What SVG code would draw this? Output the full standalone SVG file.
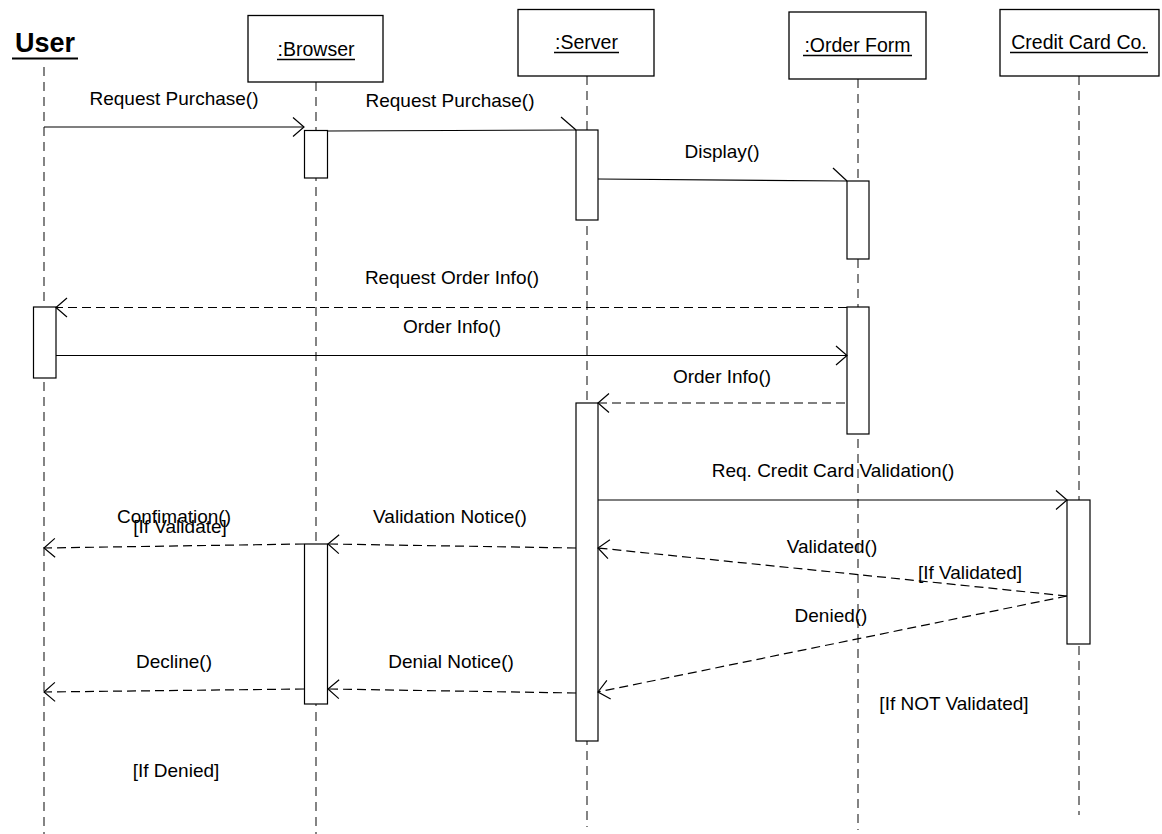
<svg xmlns="http://www.w3.org/2000/svg" width="1162" height="834" viewBox="0 0 1162 834">
<style>
text{font-family:"Liberation Sans",Arial,sans-serif;font-size:19px;fill:#000;text-anchor:middle}
.title{font-size:19.5px}
.box{fill:#fff;stroke:#000;stroke-width:1.3}
.act{fill:#fff;stroke:#000;stroke-width:1.2}
.life{stroke:#333;stroke-width:1.2;stroke-dasharray:9 6;fill:none}
.msg{stroke:#000;stroke-width:1.2;fill:none}
.dash{stroke-dasharray:9 5}
.ul{stroke:#000;stroke-width:1.3}
.head{stroke:#000;stroke-width:1.2;fill:none}
</style>
<defs>
<marker id="v" markerUnits="userSpaceOnUse" markerWidth="30" markerHeight="30" refX="0" refY="0" viewBox="-15 -15 30 30" orient="auto" overflow="visible">
<path d="M-11,-9.5 L0,0 L-11,9.5" class="head"/>
</marker>
</defs>
<g id="lifelines">
<line class="life" x1="44" y1="67" x2="44" y2="834"/>
<line class="life" x1="316" y1="82" x2="316" y2="834"/>
<line class="life" x1="587" y1="76" x2="587" y2="827"/>
<line class="life" x1="858" y1="79" x2="858" y2="830"/>
<line class="life" x1="1079" y1="76" x2="1079" y2="815"/>
</g>
<g id="user">
<text x="45" y="52" style="font-size:27px;font-weight:bold">User</text>
<line class="ul" x1="12" y1="58.5" x2="78" y2="58.5" style="stroke-width:2"/>
<rect class="act" x="33.5" y="307" width="22.5" height="71"/>
</g>
<g id="browser">
<rect class="box" x="248" y="15.5" width="135" height="66.5"/>
<text class="title" x="316" y="56">:Browser</text>
<line class="ul" x1="277" y1="59.5" x2="355" y2="59.5"/>
<rect class="act" x="304.5" y="130.5" width="23" height="47.5"/>
<rect class="act" x="304.5" y="544" width="23" height="160"/>
</g>
<g id="server">
<rect class="box" x="518" y="9.5" width="136" height="66.5"/>
<text class="title" x="586.5" y="49">:Server</text>
<line class="ul" x1="554" y1="52.5" x2="619" y2="52.5"/>
<rect class="act" x="576" y="130" width="22" height="90"/>
<rect class="act" x="576" y="403" width="22" height="338"/>
</g>
<g id="orderform">
<rect class="box" x="789" y="12" width="137" height="67"/>
<text class="title" x="857.5" y="52">:Order Form</text>
<line class="ul" x1="803" y1="55.5" x2="912" y2="55.5"/>
<rect class="act" x="847" y="181" width="22" height="78"/>
<rect class="act" x="847" y="307" width="22" height="127"/>
</g>
<g id="creditcard">
<rect class="box" x="1000" y="9.5" width="159" height="66.5"/>
<text class="title" x="1079" y="49">Credit Card Co.</text>
<line class="ul" x1="1010" y1="52.5" x2="1148" y2="52.5"/>
<rect class="act" x="1067" y="500" width="23" height="144"/>
</g>
<g id="connectors">
<line class="msg" x1="44" y1="127" x2="304" y2="127" marker-end="url(#v)"/>
<line class="msg" x1="328" y1="131" x2="576" y2="130"/>
<path class="msg" d="M561,117 L576,130"/>
<line class="msg" x1="598" y1="179" x2="847" y2="181"/>
<path class="msg" d="M833,168 L847,181"/>
<line class="msg dash" x1="847" y1="307.5" x2="56" y2="307.5" marker-end="url(#v)"/>
<line class="msg" x1="56" y1="355.5" x2="847" y2="355.5" marker-end="url(#v)"/>
<line class="msg dash" x1="845" y1="403" x2="598" y2="403" marker-end="url(#v)"/>
<line class="msg" x1="598" y1="500" x2="1067" y2="500" marker-end="url(#v)"/>
<line class="msg dash" x1="1067" y1="596" x2="598" y2="548" marker-end="url(#v)"/>
<line class="msg dash" x1="1067" y1="596" x2="598" y2="692" marker-end="url(#v)"/>
<line class="msg dash" x1="576" y1="548" x2="328" y2="544" marker-end="url(#v)"/>
<line class="msg dash" x1="304" y1="544" x2="44" y2="548" marker-end="url(#v)"/>
<line class="msg dash" x1="576" y1="693" x2="328" y2="689" marker-end="url(#v)"/>
<line class="msg dash" x1="304" y1="689" x2="44" y2="692" marker-end="url(#v)"/>
</g>
<g id="labels">
<text x="174" y="105">Request Purchase()</text>
<text x="450" y="107">Request Purchase()</text>
<text x="722" y="158">Display()</text>
<text x="452" y="284">Request Order Info()</text>
<text x="452" y="333">Order Info()</text>
<text x="722" y="383">Order Info()</text>
<text x="833" y="477">Req. Credit Card Validation()</text>
<text x="174" y="523">Confimation()</text>
<text x="180" y="533">[If Validate]</text>
<text x="450" y="523">Validation Notice()</text>
<text x="832" y="553">Validated()</text>
<text x="970" y="579">[If Validated]</text>
<text x="831" y="622">Denied()</text>
<text x="174" y="668">Decline()</text>
<text x="451" y="668">Denial Notice()</text>
<text x="954" y="710">[If NOT Validated]</text>
<text x="176" y="777">[If Denied]</text>
</g>
</svg>
